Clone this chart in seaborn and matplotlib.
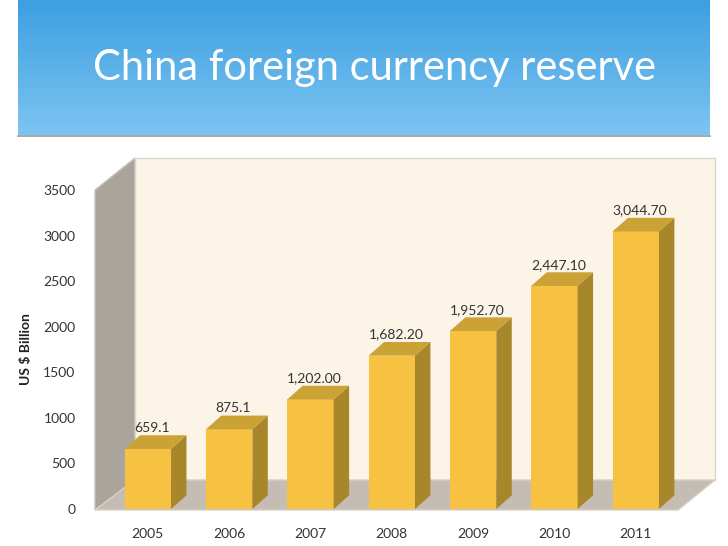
import numpy as np
import pandas as pd
import seaborn as sns
import matplotlib.pyplot as plt
from matplotlib.patches import Polygon
from matplotlib.colors import LinearSegmentedColormap

# Data
years = ["2005", "2006", "2007", "2008", "2009", "2010", "2011"]
reserves = [659.1, 875.1, 1202.00, 1682.20, 1952.70, 2447.10, 3044.70]
value_labels = ["659.1", "875.1", "1,202.00", "1,682.20", "1,952.70", "2,447.10", "3,044.70"]
y_ticks = [0, 500, 1000, 1500, 2000, 2500, 3000, 3500]

df = pd.DataFrame({"Year": years, "Reserve": reserves})

W, H = 728, 546
fig = plt.figure(figsize=(W / 100, H / 100), dpi=100)
font = "Lato"

# background axes in pixel coords
bg = fig.add_axes([0, 0, 1, 1])
bg.set_xlim(0, W)
bg.set_ylim(H, 0)
bg.axis("off")

# blue banner with gradient
grad = np.linspace(0, 1, 256).reshape(-1, 1)
cmap = LinearSegmentedColormap.from_list("b", ["#3d9fe0", "#7cc4f2"])
bg.imshow(grad, extent=[18, 710, 135, 0], cmap=cmap, aspect="auto", zorder=0)
bg.plot([18, 710], [136, 136], color="#9a9a9a", lw=1.2)
bg.text(93, 68, "China foreign currency reserve", color="white", fontsize=30,
        family=font, va="center", ha="left")

# 3D walls
bg.add_patch(Polygon([(95, 190), (135, 158), (135, 480), (95, 510)],
                     closed=True, facecolor="#aaa49d", edgecolor="#c8c2bb", zorder=1))
bg.add_patch(Polygon([(135, 158), (715, 158), (715, 480), (135, 480)],
                     closed=True, facecolor="#fdf4e8", edgecolor="#ddd5c8", zorder=1))
bg.add_patch(Polygon([(95, 510), (135, 480), (715, 480), (678, 510)],
                     closed=True, facecolor="#c5bcb3", edgecolor="#d8d0c8", zorder=1))

# main axes for bars
ax = fig.add_axes([95 / W, 1 - 509 / H, 605 / W, 319 / H])
ax.patch.set_alpha(0)
bar_w = 0.57
sns.barplot(data=df, x="Year", y="Reserve", color="#f7c242", width=bar_w,
            ax=ax, saturation=1, zorder=3)
ax.set_xlim(-0.65, 6.79)
ax.set_ylim(0, 3500)

dx, dy = 0.19, 150
for i, v in enumerate(reserves):
    x0, x1 = i - bar_w / 2, i + bar_w / 2
    ax.add_patch(Polygon([(x1, 0), (x1 + dx, dy), (x1 + dx, v + dy), (x1, v)],
                         closed=True, facecolor="#a8862a", edgecolor="none", zorder=3))
    ax.add_patch(Polygon([(x0, v), (x0 + dx, v + dy), (x1 + dx, v + dy), (x1, v)],
                         closed=True, facecolor="#caa236", edgecolor="none", zorder=3))
    ax.text(i + 0.05, v + 165, value_labels[i], ha="center", va="bottom",
            fontsize=10, family=font, color="#333333", zorder=4)

ax.set_yticks(y_ticks)
ax.set_yticklabels([str(t) for t in y_ticks], family=font, fontsize=10, color="#333333")
ax.set_xticks(range(len(years)))
ax.set_xticklabels(years, family=font, fontsize=10, color="#333333")
ax.tick_params(length=0, pad=14)
ax.set_xlabel("")
ax.set_ylabel("US $ Billion", family=font, fontsize=10, fontweight="bold",
              color="#222222", labelpad=8)
for s in ax.spines.values():
    s.set_visible(False)

fig.savefig("out.png", dpi=100)
